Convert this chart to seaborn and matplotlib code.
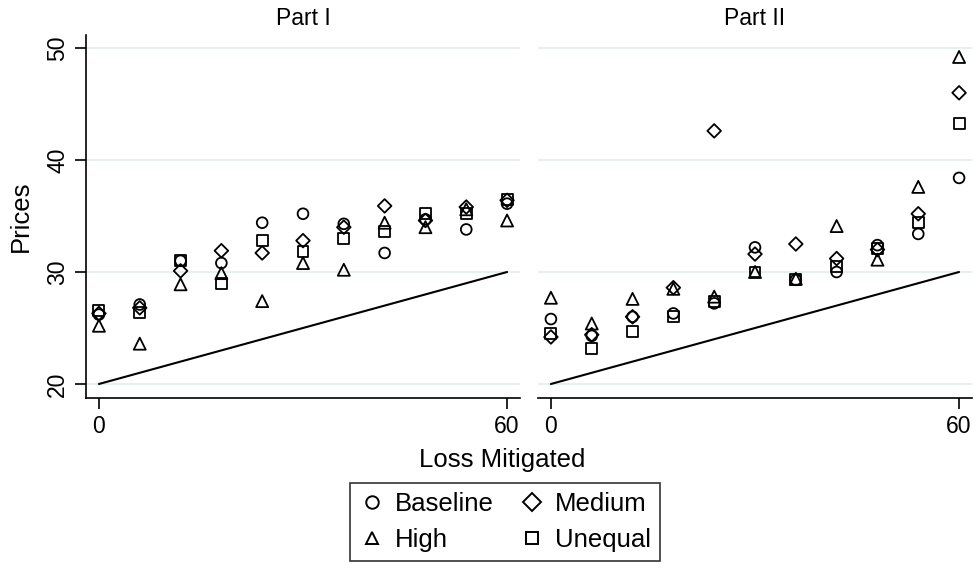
import numpy as np
import pandas as pd
import matplotlib
matplotlib.use("Agg")
import matplotlib.pyplot as plt
from matplotlib.lines import Line2D
import seaborn as sns

# Loss mitigated levels (shared by both parts)
loss = [0, 6, 12, 18, 24, 30, 36, 42, 48, 54, 60]

# Mean prices, Part I
p1_baseline = [26.2, 27.1, 31.0, 30.8, 34.4, 35.2, 34.3, 31.7, 34.7, 33.8, 36.1]
p1_high     = [25.2, 23.6, 28.9, 29.9, 27.4, 30.8, 30.2, 34.4, 34.0, 35.6, 34.6]
p1_medium   = [26.3, 26.8, 30.1, 31.9, 31.7, 32.8, 34.0, 35.9, 34.6, 35.8, 36.4]
p1_unequal  = [26.6, 26.4, 31.0, 29.0, 32.8, 31.8, 33.0, 33.6, 35.2, 35.2, 36.5]

# Mean prices, Part II
p2_baseline = [25.8, 24.3, 26.0, 26.3, 27.2, 32.2, 29.3, 30.0, 32.4, 33.4, 38.4]
p2_high     = [27.7, 25.4, 27.6, 28.5, 27.8, 30.0, 29.4, 34.1, 31.1, 37.6, 49.2]
p2_medium   = [24.2, 24.4, 26.0, 28.6, 42.6, 31.6, 32.5, 31.2, 32.0, 35.2, 46.0]
p2_unequal  = [24.5, 23.2, 24.7, 26.0, 27.4, 30.0, 29.3, 30.5, 32.1, 34.4, 43.3]

# Reference line (expected loss)
ref_x = [0, 60]
ref_y = [20, 30]

panel_titles = ["Part I", "Part II"]
groups = ["Baseline", "High", "Medium", "Unequal"]
markers = {"Baseline": "o", "High": "^", "Medium": "D", "Unequal": "s"}
sizes = {"Baseline": 60, "High": 75, "Medium": 48, "Unequal": 62}

panels = [
    {"Baseline": p1_baseline, "High": p1_high, "Medium": p1_medium, "Unequal": p1_unequal},
    {"Baseline": p2_baseline, "High": p2_high, "Medium": p2_medium, "Unequal": p2_unequal},
]

sns.set_theme(style="white")
plt.rcParams["font.family"] = ["Liberation Sans", "DejaVu Sans"]
plt.rcParams["text.color"] = "black"
plt.rcParams["axes.labelcolor"] = "black"
plt.rcParams["xtick.color"] = "black"
plt.rcParams["ytick.color"] = "black"
plt.rcParams["axes.titlecolor"] = "black"

fig = plt.figure(figsize=(9.74, 5.69), dpi=100)
fig.patch.set_facecolor("white")
axes = [
    fig.add_axes([86 / 974, 1 - 398 / 569, (520 - 86) / 974, (398 - 35) / 569]),
    fig.add_axes([538 / 974, 1 - 398 / 569, (972 - 538) / 974, (398 - 35) / 569]),
]

grid_color = "#e4ecef"
for i, ax in enumerate(axes):
    ax.set_facecolor("white")
    for yv in [20, 30, 40, 50]:
        ax.axhline(yv, color=grid_color, lw=1.2, zorder=0)
    sns.lineplot(x=ref_x, y=ref_y, ax=ax, color="black", lw=1.5, zorder=2)
    for g in groups:
        df = pd.DataFrame({"loss": loss, "price": panels[i][g]})
        sns.scatterplot(data=df, x="loss", y="price", ax=ax, marker=markers[g],
                        s=sizes[g], color="black", legend=False, zorder=3)
        pc = ax.collections[-1]
        pc.set_facecolor("none")
        pc.set_edgecolor("black")
        pc.set_linewidth(1.3)
    ax.set_xlim(-1.9, 61.9)
    ax.set_ylim(18.75, 51.16)
    ax.set_xticks([0, 60])
    ax.set_xlabel("")
    ax.set_ylabel("")
    ax.set_title(panel_titles[i], fontsize=16.5, pad=7, color="black")
    for side in ["top", "right"]:
        ax.spines[side].set_visible(False)
    ax.spines["bottom"].set_color("black")
    ax.spines["bottom"].set_linewidth(1.2)
    ax.tick_params(axis="x", direction="out", length=8, width=1.2, color="black",
                   labelcolor="black", labelsize=16.5, pad=4, bottom=True)
    if i == 0:
        ax.spines["left"].set_color("black")
        ax.spines["left"].set_linewidth(1.2)
        ax.set_yticks([20, 30, 40, 50])
        ax.tick_params(axis="y", direction="out", length=8, width=1.2, color="black",
                       labelcolor="black", labelsize=16.5, pad=4, left=True)
        for lab in ax.get_yticklabels():
            lab.set_rotation(90)
            lab.set_va("center")
        ax.set_ylabel("Prices", fontsize=18.5, labelpad=10, color="black")
    else:
        ax.spines["left"].set_visible(False)
        ax.set_yticks([20, 30, 40, 50])
        ax.tick_params(axis="y", left=False, labelleft=False)

fig.text(502 / 974, 1 - 460 / 569, "Loss Mitigated", ha="center", va="center",
         fontsize=18.5, color="black")

order = ["Baseline", "High", "Medium", "Unequal"]
handles = [Line2D([], [], linestyle="none", marker=markers[g], markersize=9,
                  markerfacecolor="none", markeredgecolor="black", markeredgewidth=1.4)
           for g in order]
leg = fig.legend(handles, order, loc="center", bbox_to_anchor=(505 / 974, 1 - 522 / 569),
                 ncol=2, fontsize=18.5, frameon=True, fancybox=False, edgecolor="black",
                 handletextpad=0.4, columnspacing=1.0, labelspacing=0.45,
                 borderpad=0.35, handlelength=1.0)
leg.get_frame().set_linewidth(1.2)
for t in leg.get_texts():
    t.set_color("black")

fig.savefig("out.png", dpi=100, facecolor="white")
